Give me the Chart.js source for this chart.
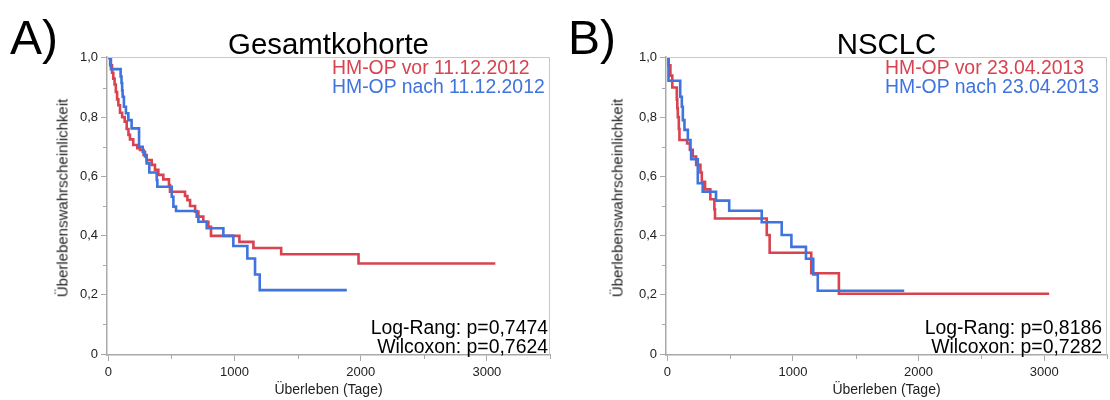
<!DOCTYPE html>
<html>
<head>
<meta charset="utf-8">
<script src="https://cdn.jsdelivr.net/npm/chart.js@4.4.1/dist/chart.umd.min.js"></script>
<style>
  html, body { margin: 0; padding: 0; background: #fff; }
  #wrap { position: relative; width: 1110px; height: 400px; overflow: hidden;
          font-family: "Liberation Sans", Arial, Helvetica, sans-serif; color: #000; }
  .panel { position: absolute; top: 0; width: 555px; height: 400px; }
  .panel canvas { position: absolute; left: 0; top: 0; width: 555px; height: 400px; }
  .lbl { position: absolute; white-space: nowrap; line-height: 1; }
  .tag { font-size: 48px; top: 14px; }
  .ttl { font-size: 29.4px; top: 29px; text-align: center; }
  .leg { font-size: 19.4px; }
  .pv  { font-size: 19.4px; text-align: right; }
  .ytl { font-size: 15px; color: #222; transform: translate(-50%, -50%) rotate(-90deg); }
</style>
</head>
<body>
<div id="wrap">
  <div class="panel" style="left:0"><canvas id="chartA" width="555" height="400"></canvas></div>
  <div class="panel" style="left:555px"><canvas id="chartB" width="555" height="400"></canvas></div>

  <div class="lbl tag" style="left:10px">A)</div>
  <div class="lbl ttl" style="left:107px;width:443px">Gesamtkohorte</div>
  <div class="lbl leg" style="left:332px;top:58px;color:#d8434f">HM-OP vor 11.12.2012</div>
  <div class="lbl leg" style="left:332px;top:76.5px;color:#3f73dd">HM-OP nach 11.12.2012</div>
  <div class="lbl pv" style="right:562px;top:318px">Log-Rang: p=0,7474</div>
  <div class="lbl pv" style="right:562px;top:337px">Wilcoxon: p=0,7624</div>
  <div class="lbl ytl" style="left:62px;top:198px">Überlebenswahrscheinlichkeit</div>

  <div class="lbl tag" style="left:568px">B)</div>
  <div class="lbl ttl" style="left:666px;width:441px">NSCLC</div>
  <div class="lbl leg" style="left:885px;top:58px;color:#d8434f">HM-OP vor 23.04.2013</div>
  <div class="lbl leg" style="left:885px;top:76.5px;color:#3f73dd">HM-OP nach 23.04.2013</div>
  <div class="lbl pv" style="right:8px;top:318px">Log-Rang: p=0,8186</div>
  <div class="lbl pv" style="right:8px;top:337px">Wilcoxon: p=0,7282</div>
  <div class="lbl ytl" style="left:617px;top:198px">Überlebenswahrscheinlichkeit</div>
</div>

<script>
// Kaplan-Meier step data: event day and survival probability after that day
const daysA_vor = [0, 15, 30, 40, 50, 60, 70, 80, 93, 110, 130, 146, 160, 172, 198, 230, 251, 280, 304, 344, 370, 397, 436, 481, 489, 608, 627, 648, 688, 714, 753, 793, 814, 1039, 1150, 1370, 1983, 3067];
const survA_vor = [1.0, 0.975, 0.95, 0.93, 0.91, 0.885, 0.86, 0.84, 0.815, 0.80, 0.785, 0.76, 0.74, 0.725, 0.706, 0.695, 0.689, 0.672, 0.655, 0.639, 0.622, 0.605, 0.59, 0.571, 0.548, 0.534, 0.52, 0.50, 0.481, 0.464, 0.447, 0.43, 0.399, 0.379, 0.358, 0.337, 0.306, 0.306];

const daysA_nach = [0, 21, 98, 105, 110, 114, 124, 140, 159, 185, 244, 273, 291, 304, 325, 384, 389, 503, 516, 537, 701, 714, 780, 912, 991, 1102, 1163, 1200, 1890];
const survA_nach = [1.0, 0.962, 0.937, 0.915, 0.89, 0.869, 0.835, 0.813, 0.79, 0.762, 0.70, 0.683, 0.667, 0.644, 0.613, 0.588, 0.565, 0.531, 0.498, 0.483, 0.464, 0.447, 0.425, 0.399, 0.365, 0.323, 0.269, 0.216, 0.216];

const daysB_vor = [0, 10, 25, 40, 76, 80, 84, 92, 97, 158, 180, 203, 230, 264, 275, 301, 343, 375, 380, 792, 815, 1146, 1366, 3040];
const survB_vor = [1.0, 0.975, 0.94, 0.90, 0.86, 0.83, 0.80, 0.76, 0.723, 0.711, 0.69, 0.667, 0.639, 0.613, 0.582, 0.556, 0.523, 0.489, 0.458, 0.402, 0.342, 0.273, 0.204, 0.204];

const daysB_nach = [0, 10, 103, 116, 124, 137, 164, 185, 190, 243, 282, 388, 493, 752, 911, 988, 1104, 1162, 1198, 1886];
const survB_nach = [1.0, 0.923, 0.869, 0.835, 0.79, 0.757, 0.723, 0.689, 0.658, 0.577, 0.548, 0.518, 0.484, 0.445, 0.402, 0.362, 0.322, 0.269, 0.214, 0.214];

// Axis ticks
const xTickValues = [0, 1000, 2000, 3000];
const xTickLabels = ['0', '1000', '2000', '3000'];
const xMinorValues = [500, 1500, 2500, 3500];
const yTickValues = [0, 0.2, 0.4, 0.6, 0.8, 1.0];
const yTickLabels = ['0', '0,2', '0,4', '0,6', '0,8', '1,0'];
const yMinorValues = [0.1, 0.3, 0.5, 0.7, 0.9];

const RED = '#d8434f';
const BLUE = '#3f73dd';
const AXIS = '#a9a9a9';
const FRAME = '#c9c9c9';
const FONT = '"Liberation Sans", Arial, Helvetica, sans-serif';

function pairs(days, surv) {
  return days.map((d, i) => ({ x: d, y: surv[i] }));
}

// light frame on top and right, short minor ticks on both axes
const framePlugin = {
  id: 'frameAndMinorTicks',
  afterDraw(chart) {
    const { ctx, chartArea: a, scales: { x, y } } = chart;
    ctx.save();
    ctx.strokeStyle = FRAME;
    ctx.lineWidth = 1;
    ctx.beginPath();
    ctx.moveTo(a.left, a.top + 0.5);
    ctx.lineTo(a.right - 0.5, a.top + 0.5);
    ctx.lineTo(a.right - 0.5, a.bottom);
    ctx.stroke();
    ctx.strokeStyle = AXIS;
    ctx.lineWidth = 1;
    ctx.beginPath();
    xMinorValues.forEach(v => {
      const px = Math.round(x.getPixelForValue(v)) + 0.5;
      ctx.moveTo(px, a.bottom);
      ctx.lineTo(px, a.bottom + 4);
    });
    yMinorValues.forEach(v => {
      const py = Math.round(y.getPixelForValue(v)) + 0.5;
      ctx.moveTo(a.left - 4, py);
      ctx.lineTo(a.left, py);
    });
    ctx.stroke();
    ctx.restore();
  }
};

function makeChart(id, redData, blueData, yWidth, padRight) {
  return new Chart(document.getElementById(id), {
    type: 'line',
    data: {
      datasets: [
        { data: blueData, borderColor: BLUE, borderWidth: 2.6, stepped: true, fill: false, pointRadius: 0 },
        { data: redData, borderColor: RED, borderWidth: 2.6, stepped: true, fill: false, pointRadius: 0 }
      ]
    },
    options: {
      responsive: false,
      animation: false,
      events: [],
      layout: { padding: { top: 57, right: padRight, left: 0, bottom: 0 } },
      plugins: { legend: { display: false }, tooltip: { enabled: false }, title: { display: false } },
      scales: {
        x: {
          type: 'linear', min: -10, max: 3500,
          afterBuildTicks: s => { s.ticks = xTickValues.map(v => ({ value: v })); },
          afterFit: s => { s.height = 45; },
          ticks: {
            autoSkip: false, maxRotation: 0, padding: 4, color: '#222',
            font: { family: FONT, size: 13 },
            callback: (v) => xTickLabels[xTickValues.indexOf(v)]
          },
          grid: { display: true, drawOnChartArea: false, drawTicks: true, tickLength: 6, color: AXIS },
          border: { display: true, color: AXIS, width: 1.5 },
          title: { display: true, text: 'Überleben (Tage)', color: '#222', font: { family: FONT, size: 14 },
                   padding: { top: 0, bottom: 1 } }
        },
        y: {
          type: 'linear', min: -0.003, max: 1.003,
          afterBuildTicks: s => { s.ticks = yTickValues.map(v => ({ value: v })); },
          afterFit: s => { s.width = yWidth; },
          ticks: {
            autoSkip: false, padding: 3, color: '#222',
            font: { family: FONT, size: 13 },
            callback: (v) => yTickLabels[yTickValues.indexOf(v)]
          },
          grid: { display: true, drawOnChartArea: false, drawTicks: true, tickLength: 6, color: AXIS },
          border: { display: true, color: AXIS, width: 1.5 },
          title: { display: false }
        }
      }
    },
    plugins: [framePlugin]
  });
}

makeChart('chartA', pairs(daysA_vor, survA_vor), pairs(daysA_nach, survA_nach), 107, 5);
makeChart('chartB', pairs(daysB_vor, survB_vor), pairs(daysB_nach, survB_nach), 111, 3);
</script>
</body>
</html>
